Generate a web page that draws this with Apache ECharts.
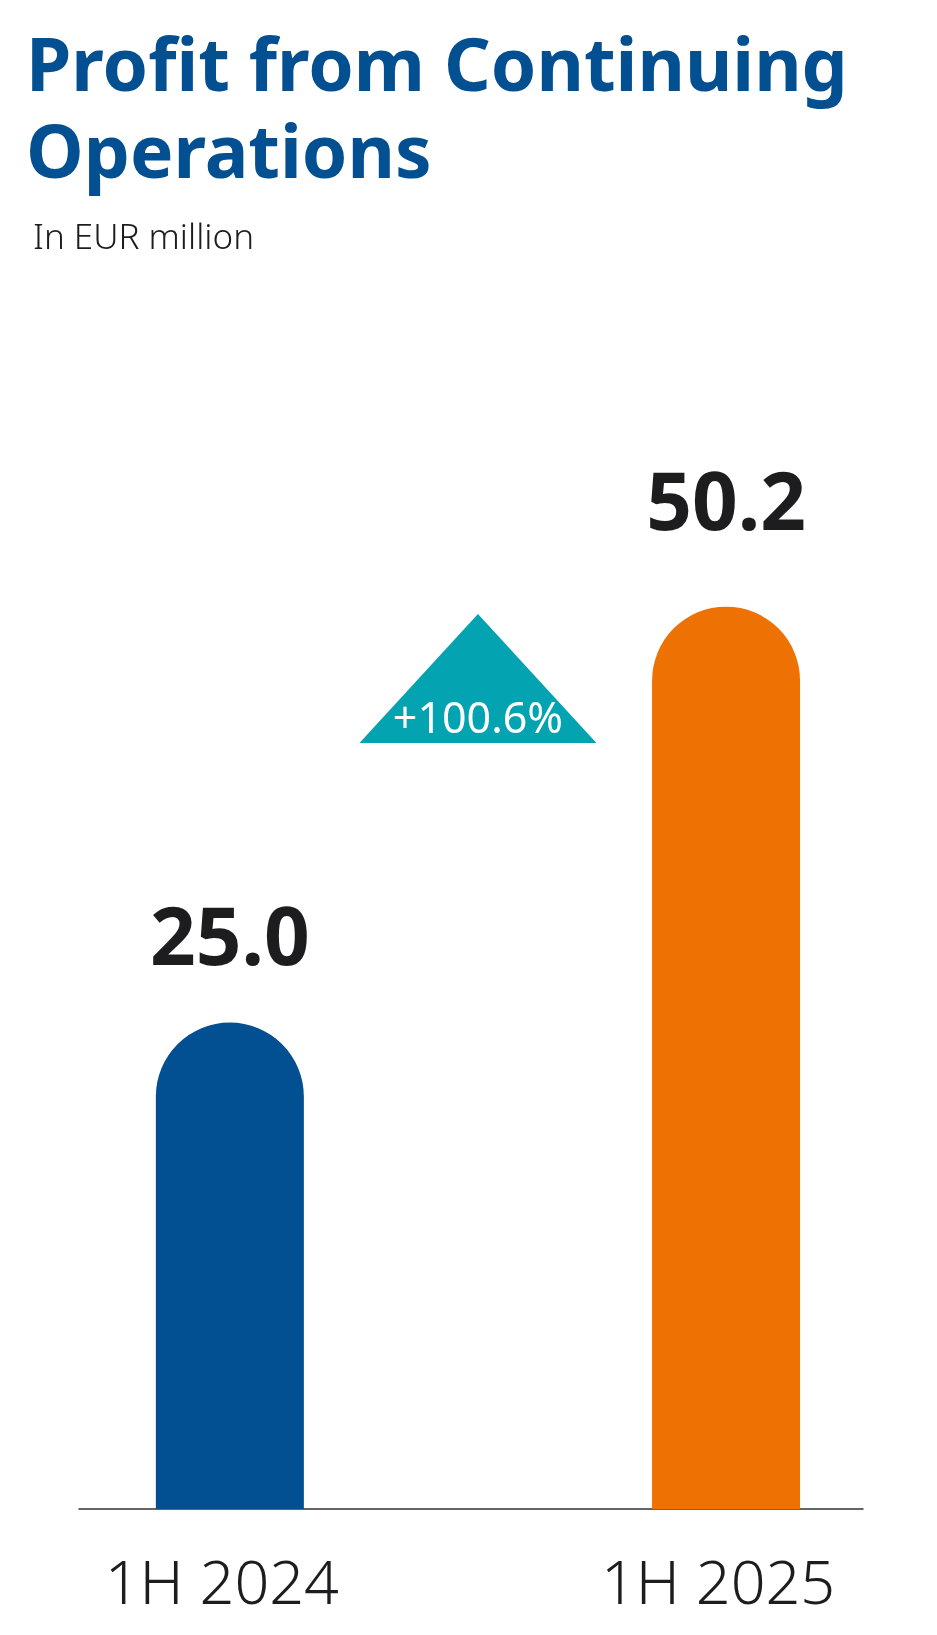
<!DOCTYPE html>
<html>
<head>
<meta charset="utf-8">
<script src="https://cdn.jsdelivr.net/npm/echarts@6/dist/echarts.min.js"></script>
<style>
html,body{margin:0;padding:0;background:#fff;}
#c{width:937px;height:1635px;}
</style>
</head>
<body>
<div id="c"></div>
<script>
// ---- data ----
const categories = ['1H 2024', '1H 2025'];
const values = [25.0, 50.2];
const changeLabel = '+100.6%';
const titleText = 'Profit from Continuing\nOperations';
const subtitleText = 'In EUR million';

// ---- styles ----
const barColors = ['#024f91', '#ee7203'];
const BAR_W = 148;
const labelGap = [56, 75];
const TEAL = '#04a3b1';

const chart = echarts.init(document.getElementById('c'), null, {renderer: 'canvas'});

const option = {
  backgroundColor: '#fff',
  animation: false,
  title: [
    {
      text: titleText, left: 21, top: 22,
      textStyle: {fontFamily: 'Noto Sans', fontWeight: 'bold', fontSize: 73, lineHeight: 87, color: '#024f91'}
    },
    {
      text: subtitleText, left: 28, top: 217,
      textStyle: {fontFamily: 'Noto Sans', fontWeight: 300, fontSize: 35, color: '#1d1d1f'}
    }
  ],
  grid: {left: 79, right: 74, top: 519, bottom: 126, containLabel: false},
  xAxis: {
    type: 'value', min: -0.304, max: 1.276,
    axisLine: {show: true, onZero: false, lineStyle: {color: '#333', width: 1.5}},
    axisTick: {show: false},
    splitLine: {show: false},
    axisLabel: {
      customValues: categories.map((c, i) => i),
      formatter: v => categories[Math.round(v)],
      margin: 47,
      padding: [0, 16, 0, 0],
      fontFamily: 'Noto Sans', fontWeight: 300, fontSize: 61, color: '#1d1d1f'
    }
  },
  yAxis: {type: 'value', min: 0, max: 60, show: false},
  series: [{
    type: 'custom',
    data: values.map((v, i) => [i, v]),
    renderItem: function (params, api) {
      const i = params.dataIndex;
      const x = api.value(0), v = api.value(1);
      const base = api.coord([x, 0]);
      const top = api.coord([x, v]);
      const r = BAR_W / 2;
      return {
        type: 'group',
        children: [
          {
            type: 'rect',
            shape: {x: top[0] - r, y: top[1] - r, width: BAR_W, height: base[1] - top[1] + r, r: [r, r, 0, 0]},
            style: {fill: barColors[i]}
          },
          {
            type: 'text',
            style: {
              text: v.toFixed(1), x: top[0], y: top[1] - r - labelGap[i] + 16,
              align: 'center', verticalAlign: 'bottom',
              font: 'bold 80px "Noto Sans"', fill: '#1d1d1f'
            }
          }
        ]
      };
    }
  }]
};
chart.setOption(option);

// change annotation triangle between bars
const cx = (chart.convertToPixel({xAxisIndex: 0}, 0) + chart.convertToPixel({xAxisIndex: 0}, 1)) / 2;
const triH = 129, triW = 237, triBase = 743;
chart.setOption({
  graphic: [
    {
      type: 'polygon',
      shape: {points: [[cx, triBase - triH], [cx - triW / 2, triBase], [cx + triW / 2, triBase]]},
      style: {fill: TEAL}
    },
    {
      type: 'text',
      style: {
        text: changeLabel, x: cx, y: triBase - 1,
        align: 'center', verticalAlign: 'bottom',
        font: 'normal 43px "Noto Sans"', fill: '#fff'
      }
    }
  ]
});
</script>
</body>
</html>
